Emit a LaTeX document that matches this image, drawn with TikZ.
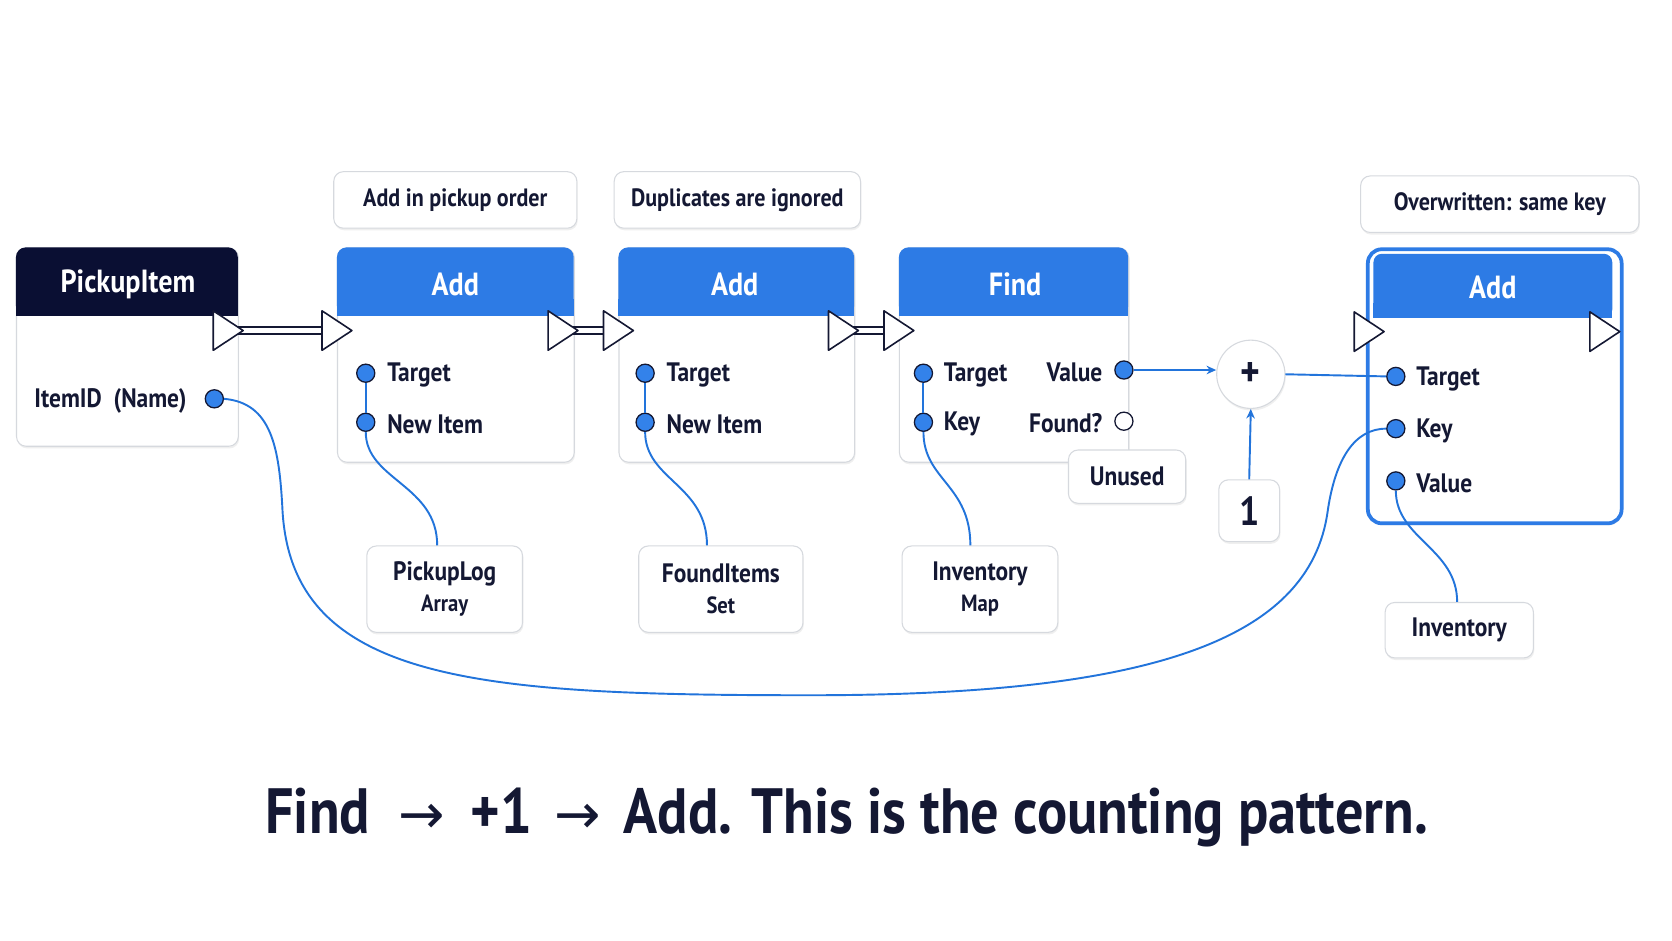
\documentclass[tikz,border=0pt]{standalone}
\usepackage{fontspec}
\setmainfont{PT Sans}[FakeStretch=0.88]
\newfontfamily\arrowfont{DejaVu Sans}
\usetikzlibrary{shadows,arrows.meta}
\definecolor{navy}{HTML}{0A0F33}
\definecolor{ink}{HTML}{141833}
\definecolor{hblue}{HTML}{2D7BE5}
\definecolor{pblue}{HTML}{3382EA}
\definecolor{wblue}{HTML}{2274DB}
\definecolor{cardline}{HTML}{D6D9DE}
\begin{document}
\begin{tikzpicture}[x=1pt,y=-1pt,
  card/.style={draw=cardline, fill=white, rounded corners=9pt, line width=1pt,
    drop shadow={shadow xshift=0.8pt, shadow yshift=-2pt, opacity=0.12}},
  bignode/.style={card, anchor=north west, inner sep=0pt},
  title/.style={text=white, font=\bfseries\fontsize{30}{32}\selectfont, inner sep=0pt},
  lbl/.style={text=ink, font=\bfseries\fontsize{25}{27}\selectfont, inner sep=0pt, anchor=west, yshift=-2pt},
  rlbl/.style={lbl, anchor=east},
  note/.style={card, text=ink, font=\bfseries\fontsize{23.5}{25}\selectfont, inner sep=0pt},
  two/.style={card, minimum height=81, inner sep=0pt, text=ink, align=center, font=\bfseries\fontsize{25}{29}\selectfont},
  port/.style={circle, draw=ink, fill=pblue, line width=1.2pt, minimum size=17pt, inner sep=0pt},
  hport/.style={port, fill=white},
  wire/.style={draw=wblue, line width=1.8pt},
  execst/.style={draw=ink, fill=white, line width=1.5pt, line join=round},
  execline/.style={draw=ink, line width=1.5pt, double=white, double distance=5pt},
  arr/.style={wire, -{Stealth[length=9pt,width=8pt]}}
]
\useasboundingbox (0,0) rectangle (1568,882);
\fill[white] (0,0) rectangle (1568,882);

% ---------- cards ----------
\node[bignode, minimum width=208, minimum height=186] (pick) at (15,232) {};
\fill[navy, rounded corners=9pt] (15,232) rectangle (223,296);
\fill[navy] (15,280) rectangle (223,296);
\node[title] (pickT) at (120,267) {PickupItem};

\node[bignode, minimum width=222, minimum height=201] (add1) at (316,232) {};
\fill[hblue, rounded corners=9pt] (316,232) rectangle (538,296);
\fill[hblue] (316,280) rectangle (538,296);
\node[title] (add1T) at (427,267) {Add};

\node[bignode, minimum width=221, minimum height=201] (add2) at (580,232) {};
\fill[hblue, rounded corners=9pt] (580,232) rectangle (801,296);
\fill[hblue] (580,280) rectangle (801,296);
\node[title] (add2T) at (689,267) {Add};

\node[bignode, minimum width=215, minimum height=201] (find) at (843,232) {};
\fill[hblue, rounded corners=9pt] (843,232) rectangle (1058,296);
\fill[hblue] (843,280) rectangle (1058,296);
\node[title] (findT) at (952,267) {Find};

\node[bignode, draw=hblue, line width=3.5pt, rounded corners=13pt, minimum width=238, minimum height=257] (add3) at (1281,232) {};
\fill[hblue, rounded corners=8pt] (1288,238) rectangle (1512,298);
\fill[hblue] (1288,284) rectangle (1512,298);
\node[title] (add3T) at (1400,270) {Add};

% ---------- comments ----------
\node[note, minimum width=228, minimum height=53] (c1) at (427,187.5) {\raisebox{-3pt}{Add in pickup order}};
\node[note, minimum width=231, minimum height=53] (c2) at (691.5,187.5) {\raisebox{-3pt}{Duplicates are ignored}};
\node[note, minimum width=261, minimum height=53] (c3) at (1406.5,191.5) {\raisebox{-3pt}{Overwritten: same key}};

% ---------- ports and labels ----------
\node[lbl] (pickL) at (32,374) {ItemID\ \ (Name)};
\node[port] (pickP) at (201,374) {};

\node[port] (a1t) at (343,350) {};
\node[port] (a1n) at (343,396) {};
\node[lbl] at (363,350) {Target};
\node[lbl] at (363,396) {New Item};

\node[port] (a2t) at (605,350) {};
\node[port] (a2n) at (605,396) {};
\node[lbl] at (625,350) {Target};
\node[lbl] at (625,396) {New Item};

\node[port] (ft) at (866,350) {};
\node[port] (fk) at (866,396) {};
\node[lbl] at (885,350) {Target};
\node[lbl] at (885,396) {Key};
\node[port] (fv) at (1054,347) {};
\node[hport] (ff) at (1054,395) {};
\node[rlbl] at (1034,347) {Value};
\node[rlbl] at (1034,395) {Found?};

\node[port] (a3t) at (1309,353) {};
\node[port] (a3k) at (1309,402) {};
\node[port] (a3v) at (1309,451) {};
\node[lbl] at (1328,353) {Target};
\node[lbl] at (1328,402) {Key};
\node[lbl] at (1328,451) {Value};

% ---------- small nodes ----------
\node[note, minimum width=110, minimum height=50, font=\bfseries\fontsize{25}{27}\selectfont] (unused) at (1057,447) {\raisebox{-2pt}{Unused}};
\node[card, circle, minimum size=64pt, inner sep=0pt, text=ink, font=\bfseries\fontsize{40}{40}\selectfont] (plus) at (1173,351) {+};
\node[card, minimum width=57, minimum height=58, inner sep=0pt, text=ink, font=\bfseries\fontsize{38}{38}\selectfont] (one) at (1171.5,479) {1};

\node[two, minimum width=146] (plog) at (417,552.5)
  {PickupLog\\{\fontsize{22}{26}\selectfont Array}};
\node[two, minimum width=154] (fitems) at (676,552.5)
  {FoundItems\\{\fontsize{22}{26}\selectfont Set}};
\node[two, minimum width=146] (invmap) at (919,552.5)
  {Inventory\\{\fontsize{22}{26}\selectfont Map}};
\node[card, minimum width=139, minimum height=52, inner sep=0pt, text=ink, font=\bfseries\fontsize{25}{27}\selectfont] (inv) at (1368.5,591) {\raisebox{-2pt}{Inventory}};

% ---------- wires ----------
\draw[wire] (a1t) -- (a1n);
\draw[wire] (a2t) -- (a2n);
\draw[wire] (ft) -- (fk);
\draw[wire] (a1n.south) .. controls +(0,45) and +(0,-57) .. ([xshift=-7pt]plog.north);
\draw[wire] (a2n.south) .. controls +(0,45) and +(0,-57) .. ([xshift=-13pt]fitems.north);
\draw[wire] (fk.south) .. controls +(0,45) and +(0,-57) .. ([xshift=-9pt]invmap.north);
\draw[wire] (a3v.south) .. controls +(0,45) and +(0,-50) .. ([xshift=-2pt]inv.north);
\draw[wire] (pickP.east) .. controls (255,378) and (262,420) .. (265,480)
  .. controls (275,640) and (450,652) .. (760,652)
  .. controls (1080,652) and (1228,600) .. (1245,480)
  .. controls (1252,431) and (1270,402) .. (a3k.west);
\draw[arr] (fv.east) -- (fv.east -| plus.west);
\draw[arr] (one.north) -- (plus.south);
\draw[wire] (plus.east) -- (a3t.west);

% ---------- exec pins ----------
\coordinate (pickX) at (200,310);
\coordinate (a1In) at (302,310);
\coordinate (a1Out) at (514,310);
\coordinate (a2In) at (566,310);
\coordinate (a2Out) at (777,310);
\coordinate (fIn) at (829,310);
\coordinate (a3In) at (1270,311);
\coordinate (a3Out) at (1491,311);
\draw[execline] ([xshift=14pt]pickX) -- (a1In);
\draw[execline] ([xshift=14pt]a1Out) -- (a2In);
\draw[execline] ([xshift=14pt]a2Out) -- (fIn);
\foreach \c in {pickX,a1In,a1Out,a2In,a2Out,fIn,a3In,a3Out}
  \draw[execst] ([yshift=18.5pt]\c) -- ([xshift=28pt]\c) -- ([yshift=-18.5pt]\c) -- cycle;

% ---------- caption ----------
\node[text=ink, font=\bfseries\fontsize{60}{62}\selectfont, inner sep=0pt] (caption) at (794,767)
  {Find\hspace{0.45em}{\arrowfont\mdseries\fontsize{52}{52}\selectfont →}\hspace{0.4em}+1\hspace{0.35em}{\arrowfont\mdseries\fontsize{52}{52}\selectfont →}\hspace{0.35em}Add. This is the counting pattern.};
\end{tikzpicture}
\end{document}
